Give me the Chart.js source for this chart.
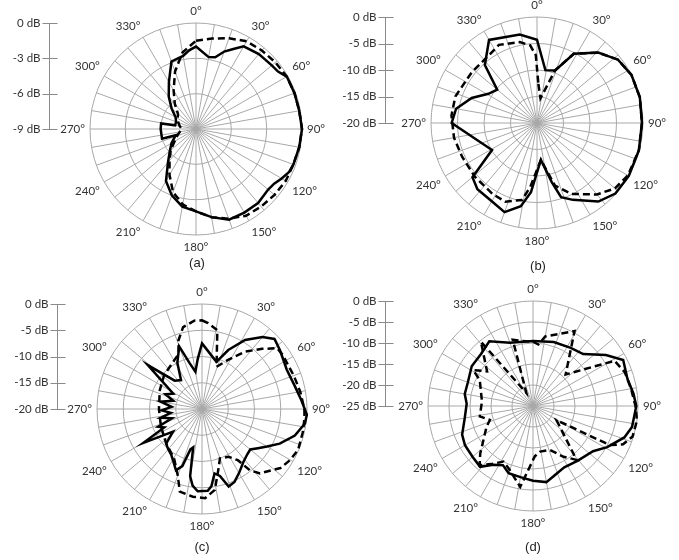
<!DOCTYPE html>
<html>
<head>
<meta charset="utf-8">
<title>Radiation patterns</title>
<script src="https://cdn.jsdelivr.net/npm/chart.js@4.4.1/dist/chart.umd.min.js"></script>
<style>
  html, body { margin: 0; padding: 0; background: #fff; overflow: hidden; }
  body { width: 679px; height: 560px; position: relative; }
  canvas { position: absolute; }
  .cap { position: absolute; width: 40px; margin-left: -20px; text-align: center;
         font: 13px "Liberation Sans", Arial, sans-serif; color: #222; }
</style>
</head>
<body>
<canvas id="pa" width="360" height="290" style="left:0px;top:-10px"></canvas>
<canvas id="pb" width="360" height="290" style="left:340px;top:-10px"></canvas>
<canvas id="pc" width="360" height="290" style="left:0px;top:270px"></canvas>
<canvas id="pd" width="360" height="290" style="left:340px;top:270px"></canvas>
<div class="cap" style="left:197px;top:255px">(a)</div>
<div class="cap" style="left:538px;top:258px">(b)</div>
<div class="cap" style="left:202px;top:539px">(c)</div>
<div class="cap" style="left:533px;top:539px">(d)</div>
<script>
const degreeLabels = ['0°', '30°', '60°', '90°', '120°', '150°', '180°', '210°', '240°', '270°', '300°', '330°'];

// (a)
const aTicks = [0, -3, -6, -9];
const aSolidDeg = [0, 10, 15, 20, 25, 30, 40, 50, 55, 60, 70, 80, 90, 100, 110, 115, 120, 125, 130, 140, 150, 160, 170, 180, 190, 200, 210, 220, 230, 240, 250, 253, 254, 270, 279, 280, 290, 300, 310, 320, 330, 340, 350, 355];
const aSolidDb = [-2.0, -2.8, -2.7, -2.0, -1.5, -0.9, -0.7, -0.6, -0.5, -0.1, -0.1, -0.1, 0, -0.1, -0.2, -0.3, -0.6, -0.9, -1.0, -0.8, -0.8, -0.8, -1.4, -2.0, -2.3, -3.0, -3.9, -5.3, -6.1, -6.6, -7.1, -7.2, -6.0, -6.0, -6.0, -7.2, -7.2, -7.0, -6.3, -5.4, -4.4, -2.9, -2.7, -2.3];
const aDashDeg = [0, 10, 20, 30, 40, 50, 60, 70, 80, 90, 100, 110, 120, 130, 140, 150, 160, 170, 180, 190, 200, 210, 220, 230, 240, 250, 260, 270, 280, 290, 300, 310, 320, 330, 340, 350];
const aDashDb = [-1.5, -1.2, -0.8, -0.4, -0.3, -0.2, -0.1, -0.1, -0.1, 0, -0.1, -0.2, -0.2, -0.3, -0.4, -0.5, -0.9, -1.4, -2.0, -2.5, -3.3, -4.5, -5.5, -6.2, -6.9, -7.3, -7.6, -7.8, -7.6, -7.4, -7.2, -7.0, -6.2, -5.2, -3.8, -2.4];

// (b)
const bTicks = [0, -5, -10, -15, -20];
const bSolidDeg = [0, 9, 19, 28, 41, 52, 63, 76, 90, 105, 120, 132, 142, 155, 162, 166, 174, 185, 191, 200, 211, 222, 230, 239, 270, 280, 291, 301, 310, 318, 330, 349];
const bSolidDb = [-4.3, -9.9, -9.5, -5.2, -2.4, -0.6, 0, 0, -0.2, -0.1, 0, -0.1, -1.2, -4.0, -5.3, -8.5, -13.0, -6.9, -4.0, -2.1, -3.0, -3.2, -4.1, -10.1, -3.9, -4.5, -6.8, -9.3, -10.2, -5.3, -1.9, -3.0];
const bDashDeg = [2, 8, 19, 28, 41, 52, 63, 76, 90, 105, 120, 130, 140, 154, 164, 174, 186, 191, 202, 212, 229, 246, 260, 275, 288, 308, 323, 334, 348, 355, 359];
const bDashDb = [-12.6, -15.3, -9.5, -5.2, -2.4, -0.6, 0, 0, -0.2, -0.1, -0.2, -0.8, -2.4, -5.1, -7.7, -13.0, -7.9, -5.2, -4.0, -4.2, -4.5, -4.5, -4.1, -3.8, -3.8, -4.4, -4.4, -3.6, -4.4, -5.3, -7.2];

// (c)
const cTicks = [0, -5, -10, -15, -20];
const cSolidDeg = [0, 17, 24, 32, 40, 46, 53, 65, 76, 85, 93, 98, 106, 114, 120, 125, 130, 135, 142, 150, 156, 161, 165, 169, 173, 176, 183, 187, 190, 193, 196, 199, 203, 208, 214, 220, 226, 232, 240, 244, 248, 253, 258, 263, 268, 274, 280, 286, 292, 298, 309, 316, 324, 332, 340, 345, 350, 355];
const cSolidDb = [-7.5, -10.6, -7.7, -4.5, -2.1, -0.8, -1.4, -2.2, -1.8, -1.0, 0, -0.2, -1.6, -3.8, -5.7, -7.0, -8.0, -7.8, -7.2, -5.9, -4.8, -4.4, -6.8, -7.5, -5.2, -4.4, -4.3, -5.3, -7.0, -12.5, -12.0, -8.5, -7.3, -8.5, -9.5, -10.0, -10.5, -13.0, -7.1, -12.0, -11.0, -14.0, -12.0, -14.0, -12.3, -14.2, -12.0, -14.3, -12.5, -13.8, -6.7, -12.5, -13.2, -10.0, -7.3, -11.0, -12.8, -10.5];
const cDashDeg = [0, 4, 11, 19, 28, 37, 45, 51, 56, 70, 80, 90, 95, 103, 113, 120, 127, 138, 142, 145, 151, 160, 165, 171, 178, 186, 195, 200, 209, 227, 247, 270, 294, 312, 327, 337, 341, 347, 355];
const cDashDb = [-3.1, -3.6, -4.7, -11.5, -9.4, -6.3, -3.8, -1.6, -1.5, -1.4, -1.0, -0.5, -0.4, -0.3, -0.1, -0.6, -1.3, -3.5, -5.2, -8.1, -9.6, -10.0, -8.0, -4.4, -3.0, -3.2, -3.7, -6.5, -9.1, -10.6, -11.5, -11.8, -11.2, -10.3, -9.6, -8.6, -6.2, -4.0, -3.1];

// (d)
const dTicks = [0, -5, -10, -15, -20, -25];
const dSolidDeg = [0, 18, 33, 44, 55, 63, 74, 83, 90, 102, 109, 119, 127, 141, 153, 162, 170, 180, 190, 200, 207, 214, 221, 230, 240, 248, 260, 272, 280, 290, 303, 315, 326, 340];
const dSolidDb = [-9.5, -9.0, -8.5, -7.8, -3.8, -0.9, -1.6, -0.9, -0.4, -0.9, -2.0, -4.8, -7.1, -8.2, -8.6, -7.8, -6.6, -7.2, -7.8, -8.0, -9.2, -8.1, -5.8, -6.2, -6.3, -6.8, -8.5, -9.2, -8.5, -8.5, -7.6, -7.5, -6.4, -9.0];
const dDashDeg = [0, 5, 10, 29, 46, 61, 70, 80, 90, 98, 107, 113, 117, 121, 141, 149, 159, 171, 178, 189, 201, 208, 216, 222, 228, 246, 252, 259, 275, 296, 301, 307, 321, 333, 343, 350];
const dDashDb = [-9.7, -10.3, -8.2, -4.6, -14.2, -2.8, -1.7, -1.3, -0.6, 0, -0.2, -1.7, -4.5, -18.5, -8.5, -10.9, -13.8, -14.0, -13.0, -5.5, -9.0, -10.0, -7.9, -6.0, -8.1, -12.9, -14.2, -12.1, -12.8, -10.9, -8.4, -11.3, -5.3, -21.5, -8.5, -9.3];

const GRID = '#a8a8a8';
const LABEL_SIZE = 11.5;

// one label slot per degree, text only every 30°
const spokeLabels = Array.from({ length: 360 }, (_, i) => (i % 30 === 0 ? degreeLabels[i / 30] : ''));

function ring(deg, db) {
  const out = new Array(360).fill(null);
  deg.forEach((d, i) => { out[d % 360] = db[i]; });
  return out;
}

function dbAxis(ticks, gap) {
  return {
    id: 'dbAxis',
    afterDraw(chart) {
      const s = chart.scales.r;
      const ctx = chart.ctx;
      const x = Math.round(s.xCenter - gap) + 0.5;
      const yOf = v => s.yCenter - s.getDistanceFromCenterForValue(v);
      ctx.save();
      ctx.strokeStyle = '#8a8a8a';
      ctx.lineWidth = 1;
      ctx.beginPath();
      ctx.moveTo(x, yOf(ticks[0]));
      ctx.lineTo(x, yOf(ticks[ticks.length - 1]));
      ticks.forEach(v => {
        const y = Math.round(yOf(v)) + 0.5;
        ctx.moveTo(x - 7, y);
        ctx.lineTo(x + 8, y);
      });
      ctx.stroke();
      ctx.fillStyle = '#333';
      ctx.font = LABEL_SIZE + 'px Lato';
      ctx.textAlign = 'right';
      ctx.textBaseline = 'middle';
      ticks.forEach(v => ctx.fillText(v + ' dB', x - 9, yOf(v)));
      ctx.restore();
    }
  };
}

function panel(id, cx, cy, R, gap, ticks, solid, dashed) {
  const el = document.getElementById(id);
  const left = parseFloat(el.style.left), top = parseFloat(el.style.top);
  const x0 = cx - left, y0 = cy - top;
  const hw = R + 50, hh = R + 5 + LABEL_SIZE * 1.2;
  new Chart(el, {
    type: 'radar',
    data: {
      labels: spokeLabels,
      datasets: [
        { data: solid, borderColor: '#000', borderWidth: 2.5, spanGaps: true, fill: false, pointRadius: 0, pointHitRadius: 0 },
        { data: dashed, borderColor: '#000', borderWidth: 2.5, borderDash: [7, 4], spanGaps: true, fill: false, pointRadius: 0, pointHitRadius: 0 }
      ]
    },
    options: {
      responsive: false,
      animation: false,
      layout: { padding: { left: x0 - hw, right: el.width - x0 - hw, top: y0 - hh, bottom: el.height - y0 - hh } },
      plugins: { legend: { display: false }, tooltip: { enabled: false } },
      scales: {
        r: {
          min: ticks[ticks.length - 1],
          max: ticks[0],
          ticks: { display: false, stepSize: ticks[0] - ticks[1] },
          grid: { circular: true, color: GRID, lineWidth: 1 },
          angleLines: { color: GRID, lineWidth: c => (c.index % 10 === 0 ? 1 : 0) },
          pointLabels: { padding: 5, color: '#333', font: { family: 'Lato', size: LABEL_SIZE } }
        }
      }
    },
    plugins: [dbAxis(ticks, gap)]
  });
}

panel('pa', 196, 129, 106, 147, aTicks, ring(aSolidDeg, aSolidDb), ring(aDashDeg, aDashDb));
panel('pb', 537, 123, 106, 152, bTicks, ring(bSolidDeg, bSolidDb), ring(bDashDeg, bDashDb));
panel('pc', 202, 409, 105, 145, cTicks, ring(cSolidDeg, cSolidDb), ring(cDashDeg, cDashDb));
panel('pd', 533, 406, 105, 148, dTicks, ring(dSolidDeg, dSolidDb), ring(dDashDeg, dDashDb));
</script>
</body>
</html>
